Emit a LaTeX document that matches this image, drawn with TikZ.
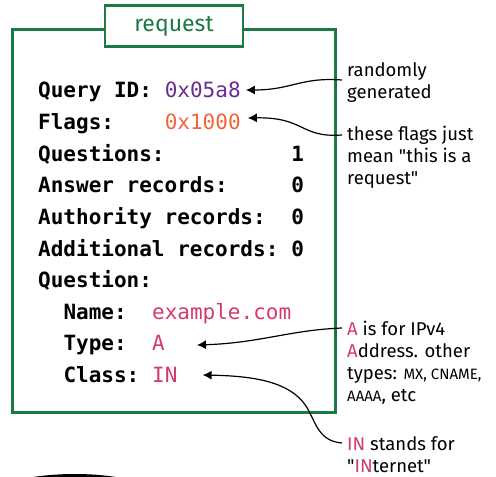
\documentclass[tikz,border=0pt]{standalone}
\usepackage{fontspec}
\setmainfont{Fira Sans}[Ligatures=TeXOff]
\setmonofont{DejaVu Sans Mono}
\usetikzlibrary{arrows.meta}
\definecolor{boxgreen}{HTML}{1B7A43}
\definecolor{idpurple}{HTML}{6A2C91}
\definecolor{flagorange}{HTML}{F0643C}
\definecolor{valpink}{HTML}{D33A6A}
\begin{document}
\begin{tikzpicture}[x=1pt,y=-1pt,
  lab/.style={font=\ttfamily\bfseries\fontsize{21}{21}\selectfont, anchor=base west, inner sep=0pt},
  val/.style={font=\ttfamily\fontsize{21}{21}\selectfont, anchor=base west, inner sep=0pt},
  note/.style={font=\fontsize{18.5}{22}\selectfont, anchor=base west, inner sep=0pt, align=left},
  conn/.style={draw=black, line width=1.2pt, -{Latex[length=9pt,width=9pt]}},
  framebox/.style={draw=boxgreen, line width=3pt},
  titlebox/.style={draw=boxgreen, line width=2.4pt, fill=white, minimum width=138pt, minimum height=41pt, inner sep=0pt}
]
\useasboundingbox (0,0) rectangle (496,477);
\def\cw{12.66}
% frame
\draw[framebox] (12,29) rectangle (335,412);
\node[titlebox, text=boxgreen, font=\fontsize{23}{23}\selectfont] (title) at (174,26) {request};
% lines
\node[lab] (l1) at (38,97) {Query ID:};
\node[val, text=idpurple] (qid) at (38+10*\cw,97) {0x05a8};
\node[lab] (l2) at (38,129) {Flags:};
\node[val, text=flagorange] (flags) at (38+10*\cw,129) {0x1000};
\node[lab] (l3) at (38,161) {Questions:};
\node[lab] (v3) at (38+20*\cw,161) {1};
\node[lab] (l4) at (38,192) {Answer records:};
\node[lab] (v4) at (38+20*\cw,192) {0};
\node[lab] (l5) at (38,224) {Authority records:};
\node[lab] (v5) at (38+20*\cw,224) {0};
\node[lab] (l6) at (38,256) {Additional records:};
\node[lab] (v6) at (38+20*\cw,256) {0};
\node[lab] (l7) at (38,287) {Question:};
\node[lab] (l8) at (38+2*\cw,319) {Name:};
\node[val, text=valpink] (name) at (38+9*\cw,319) {example.com};
\node[lab] (l9) at (38+2*\cw,350) {Type:};
\node[val, text=valpink] (typ) at (38+9*\cw,350) {A};
\node[lab] (l10) at (38+2*\cw,382) {Class:};
\node[val, text=valpink] (cls) at (38+9*\cw,382) {IN};
% notes (base = baseline of last line)
\node[note] (n1) at (347,98) {randomly\\generated};
\node[note] (n2) at (347,184) {these flags just\\mean "this is a\\request"};
\node[note] (n3) at (347,401) {\textcolor{valpink}{A} is for IPv4\\\textcolor{valpink}{A}ddress. other\\types: {\fontsize{15}{15}\selectfont MX, CNAME,}\\{\fontsize{15}{15}\selectfont AAAA}, etc};
\node[note] (n4) at (347,472) {\textcolor{valpink}{IN} stands for\\"\textcolor{valpink}{IN}ternet"};
% connectors
\coordinate (c1) at (342,80);
\coordinate (c2) at (342,135);
\coordinate (c3) at (342,328);
\coordinate (c4) at (342,443);
\draw[conn] (c1) .. controls (300,77) and (292,90) .. ([xshift=5pt,yshift=7pt]qid.base east);
\draw[conn] (c2) .. controls (300,138) and (305,117) .. ([xshift=7pt,yshift=11pt]flags.base east);
\draw[conn] (c3) .. controls (290,330) and (260,343) .. ([xshift=32pt,yshift=5pt]typ.base east);
\draw[conn] (c4) .. controls (318,441) and (316,422) .. (306,406) .. controls (290,382) and (255,376) .. ([xshift=25pt,yshift=7pt]cls.base east);
% partial shape at bottom
\fill[black] (33,477) .. controls (60,473) and (90,473) .. (116,477) -- cycle;
\end{tikzpicture}
\end{document}
